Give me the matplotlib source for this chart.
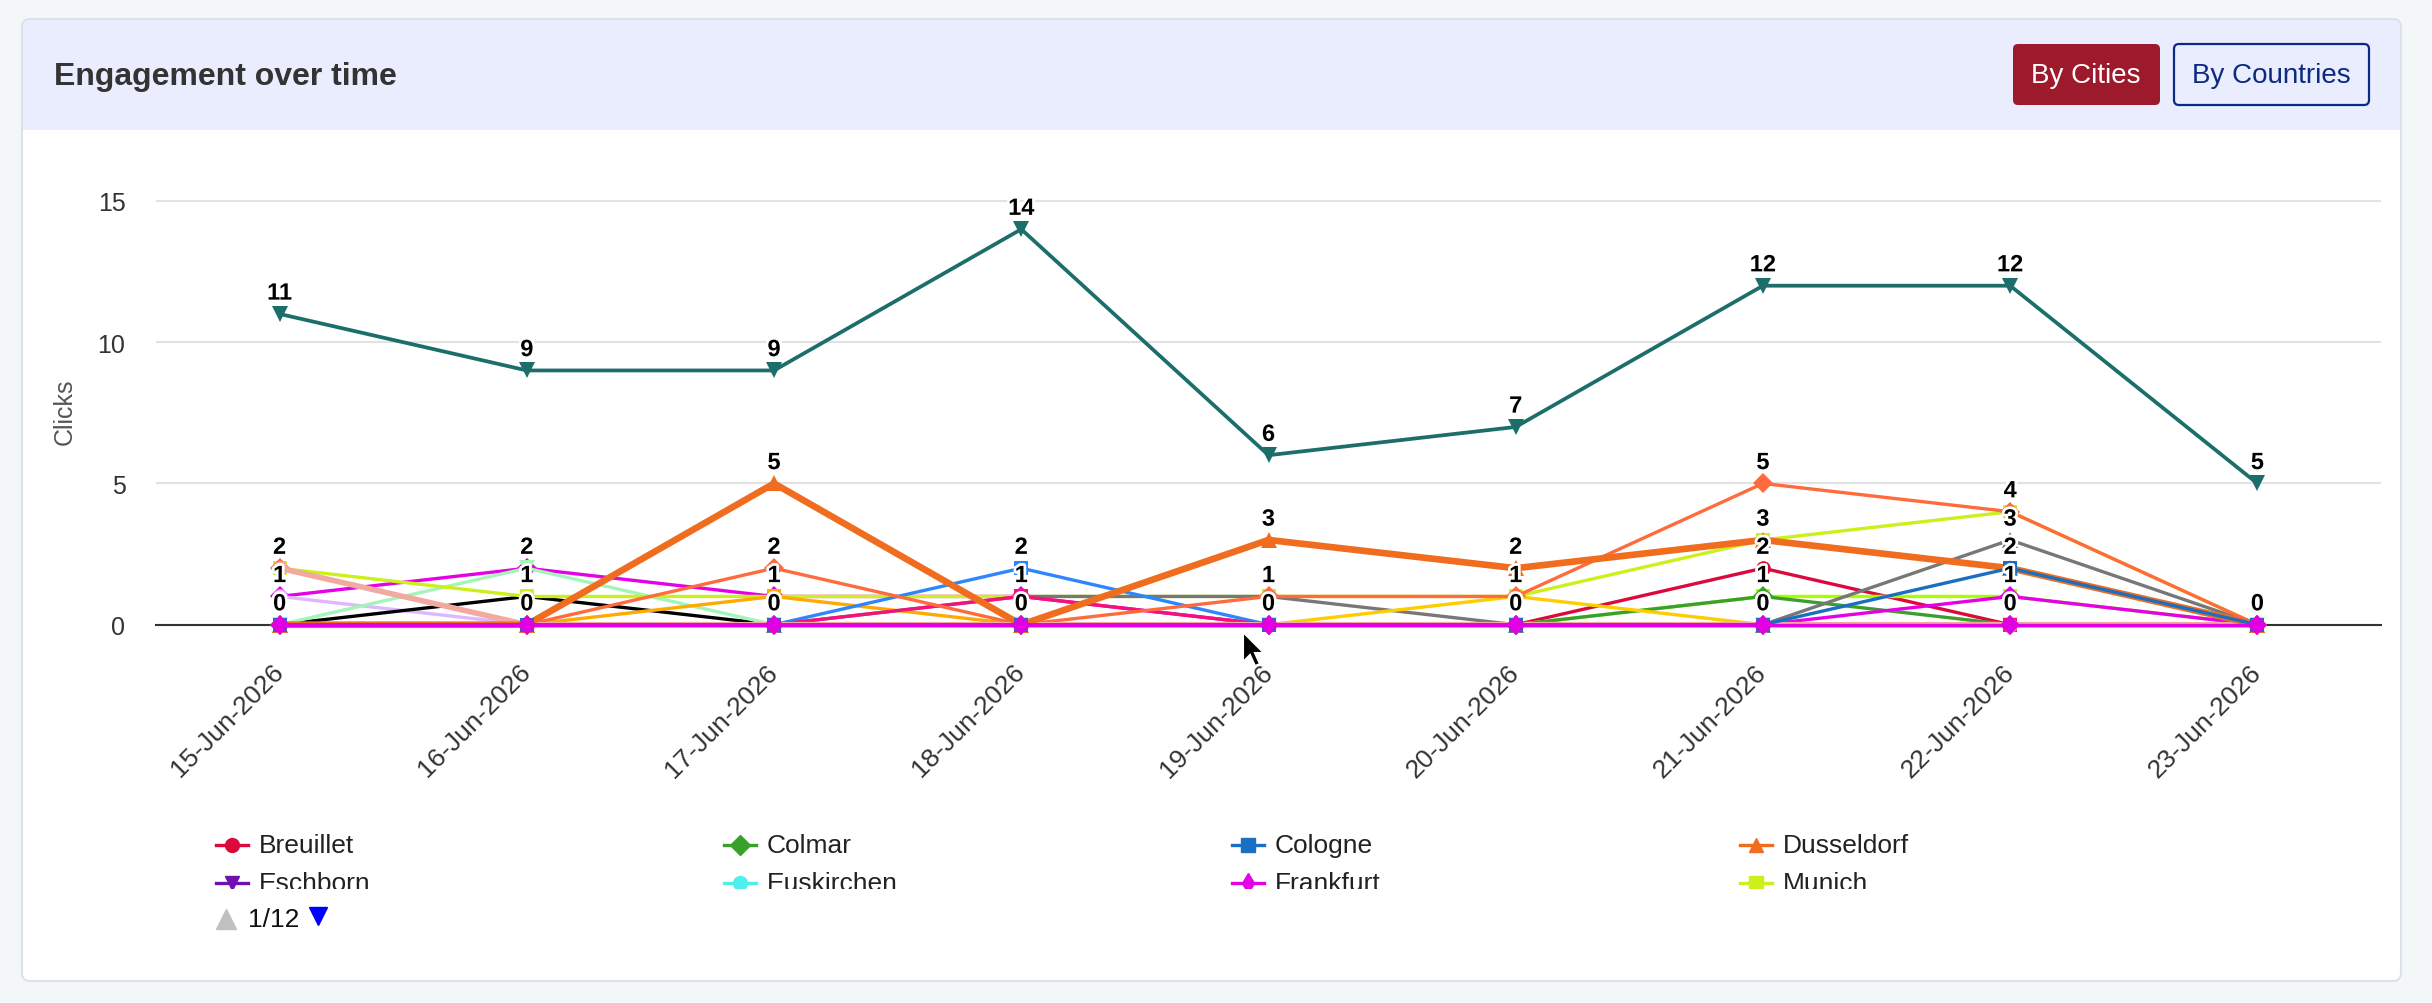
"""Engagement over time: clicks per city, recreated with matplotlib."""
import matplotlib
matplotlib.use("Agg")
import matplotlib.pyplot as plt
from matplotlib.lines import Line2D
from matplotlib.patches import FancyBboxPatch, Rectangle, Polygon
import matplotlib.patheffects as pe

plt.rcParams["font.family"] = ["Liberation Sans", "DejaVu Sans"]

W, H = 2432, 1004

dates = ["15-Jun-2026", "16-Jun-2026", "17-Jun-2026", "18-Jun-2026", "19-Jun-2026",
         "20-Jun-2026", "21-Jun-2026", "22-Jun-2026", "23-Jun-2026"]

# series in drawing order (later ones sit on top)
euskirchen = [0, 0, 0, 0, 0, 0, 0, 0, 0]
eschborn = [0, 0, 0, 0, 0, 0, 0, 0, 0]
breuillet = [0, 0, 0, 0, 0, 0, 2, 0, 0]
leverkusen = [0, 0, 0, 0, 0, 0, 1, 1, 0]
colmar = [0, 0, 0, 0, 0, 0, 1, 0, 0]
frankfurt = [1, 2, 1, 1, 0, 0, 0, 1, 0]
lyon = [1, 0, 0, 0, 0, 0, 0, 0, 0]
mainz = [0, 1, 0, 0, 0, 0, 0, 0, 0]
metz = [0, 2, 0, 0, 0, 0, 0, 0, 0]
munich = [2, 1, 1, 1, 1, 1, 3, 4, 0]
neuss = [0, 0, 0, 1, 1, 0, 0, 3, 0]
nancy = [0, 0, 1, 0, 0, 0, 0, 0, 0]
orsay = [0, 0, 0, 0, 0, 1, 0, 0, 0]
paris = [0, 0, 0, 2, 0, 0, 0, 0, 0]
reims = [0, 0, 0, 1, 0, 0, 0, 0, 0]
stuttgart = [2, 0, 2, 0, 1, 1, 5, 4, 0]
strasbourg = [2, 0, 0, 0, 0, 0, 0, 0, 0]
dusseldorf = [0, 0, 5, 0, 3, 2, 3, 2, 0]
cologne = [0, 0, 0, 0, 0, 0, 0, 2, 0]
trier = [0, 0, 0, 0, 0, 0, 0, 0, 0]
berlin = [11, 9, 9, 14, 6, 7, 12, 12, 5]

series = [
    ("Euskirchen", euskirchen, "#4ef0ee", "s", 2.4),
    ("Eschborn", eschborn, "#7010b0", "s", 2.4),
    ("Breuillet", breuillet, "#dc0a3c", "o", 2.4),
    ("Leverkusen", leverkusen, "#a8ff00", "s", 2.4),
    ("Colmar", colmar, "#3aa02c", "D", 2.4),
    ("Frankfurt", frankfurt, "#e600e6", "D", 2.4),
    ("Lyon", lyon, "#ddb8ff", "o", 2.4),
    ("Mainz", mainz, "#000000", "s", 2.4),
    ("Metz", metz, "#a3f5b8", "v", 2.4),
    ("Munich", munich, "#ccf01a", "s", 2.4),
    ("Neuss", neuss, "#777777", "^", 2.4),
    ("Nancy", nancy, "#ffaa00", "s", 2.4),
    ("Orsay", orsay, "#ffcc00", "o", 2.4),
    ("Paris", paris, "#2e86ff", "s", 2.4),
    ("Reims", reims, "#f5117a", "s", 2.4),
    ("Stuttgart", stuttgart, "#ff6b3d", "D", 2.4),
    ("Strasbourg", strasbourg, "#f2a9a0", "o", 4.0),
    ("Dusseldorf", dusseldorf, "#f06d1f", "^", 4.8),
    ("Cologne", cologne, "#1a6fc2", "s", 2.4),
    ("Trier", trier, "#e100e1", "D", 2.4),
    ("Berlin", berlin, "#1b6e6a", "v", 2.7),
]

legend_items = [
    ("Breuillet", "#dc0a3c", "o"), ("Colmar", "#3aa02c", "D"),
    ("Cologne", "#1a6fc2", "s"), ("Dusseldorf", "#f06d1f", "^"),
    ("Eschborn", "#7010b0", "v"), ("Euskirchen", "#4ef0ee", "o"),
    ("Frankfurt", "#e600e6", "d"), ("Munich", "#ccf01a", "s"),
]

fig = plt.figure(figsize=(W / 100, H / 100), dpi=100)
fig.patch.set_facecolor("#f3f7f8")

# background layer in pixel coordinates
bg = fig.add_axes([0, 0, 1, 1], zorder=0)
bg.set_xlim(0, W)
bg.set_ylim(H, 0)
bg.axis("off")

bg.add_patch(FancyBboxPatch((22, 20), 2379, 962, boxstyle="round,pad=0,rounding_size=8",
                            facecolor="white", edgecolor="#dbe2ec", linewidth=1.5))
bg.add_patch(FancyBboxPatch((23, 21), 2377, 110, boxstyle="round,pad=0,rounding_size=7",
                            facecolor="#e9edfd", edgecolor="none"))
bg.add_patch(Rectangle((23, 100), 2377, 31, facecolor="#e9edfd", edgecolor="none"))
bg.text(54, 77, "Engagement over time", fontsize=23, fontweight="bold",
        color="#333333", va="center", ha="left")

bg.add_patch(FancyBboxPatch((2013, 45), 147, 61, boxstyle="round,pad=0,rounding_size=5",
                            facecolor="#9c1a2c", edgecolor="none"))
bg.text(2086, 76, "By Cities", fontsize=20, color="white", ha="center", va="center")
bg.add_patch(FancyBboxPatch((2174, 45), 195, 61, boxstyle="round,pad=0,rounding_size=5",
                            facecolor="none", edgecolor="#0b2a80", linewidth=1.6))
bg.text(2271, 76, "By Countries", fontsize=20, color="#0b2a80", ha="center", va="center")

bg.text(65, 412, "Clicks", fontsize=18, color="#555555", rotation=90,
        ha="center", va="center")

# legend, first page only
col_x = [216, 724, 1232, 1740]
row_y = [846, 884]
for k, (name, color, mk) in enumerate(legend_items):
    x0 = col_x[k % 4]
    y0 = row_y[k // 4]
    bg.add_line(Line2D([x0, x0 + 32], [y0, y0], color=color, linewidth=2.4))
    bg.plot([x0 + 16], [y0], marker=mk, color=color, markersize=10, linestyle="none")
    bg.text(x0 + 43, y0, name, fontsize=19, color="#222222", va="center", ha="left")
# the second legend row is cut off by the legend box
bg.add_patch(Rectangle((200, 890), 2150, 14, facecolor="white", edgecolor="none", zorder=5))

bg.plot([226], [920], marker="^", color="#c0c0c0", markersize=15, linestyle="none", zorder=6)
bg.text(248, 920, "1/12", fontsize=19, color="#111111", va="center", ha="left", zorder=6)
bg.plot([318], [917], marker="v", color="#0000ff", markersize=13, linestyle="none", zorder=6)

# main chart
y0_px, ytop_px = 625.7, 173.7
ax = fig.add_axes([156 / W, 1 - y0_px / H, 2225 / W, (y0_px - ytop_px) / H], zorder=2)
ax.set_facecolor("none")

x = list(range(len(dates)))
for name, vals, color, mk, lw in series:
    ms = 12 if mk in ("v", "^") else 10.5
    ax.plot(x, vals, color=color, linewidth=lw, marker=mk, markersize=ms,
            markeredgewidth=0, clip_on=False, label=name, zorder=3)

# one label per distinct value at each date
for i in x:
    for v in sorted({s[1][i] for s in series}):
        ax.annotate(str(v), (i, v), xytext=(0, 15), textcoords="offset points",
                    ha="center", va="center", fontsize=17, fontweight="bold",
                    color="black", zorder=10, annotation_clip=False,
                    path_effects=[pe.withStroke(linewidth=4, foreground="white")])

ax.set_xlim(-0.5, len(dates) - 0.5)
ax.set_ylim(0, 16)
ax.set_yticks([0, 5, 10, 15])
ax.set_xticks(x)
ax.set_xticklabels(dates, rotation=45, ha="right", va="center", rotation_mode="anchor")
ax.tick_params(axis="both", length=0, colors="#333333")
ax.tick_params(axis="y", pad=22, labelsize=18)
ax.tick_params(axis="x", pad=31, labelsize=19)
ax.grid(axis="y", color="#e2e2e2", linewidth=1.5)
ax.set_axisbelow(True)
for side in ["top", "right", "left"]:
    ax.spines[side].set_visible(False)
ax.spines["bottom"].set_color("#333333")
ax.spines["bottom"].set_linewidth(1.5)

# mouse pointer captured in the screenshot
tip_x, tip_y = 1243, 633
arrow = [(0, 0), (0, 30), (7, 23), (12, 34), (17, 32), (12, 21), (21, 21)]
fig.add_artist(Polygon([(tip_x + dx, tip_y + dy) for dx, dy in arrow], closed=True,
                       facecolor="black", edgecolor="white", linewidth=1.5,
                       transform=bg.transData, zorder=20))

fig.savefig("out.png", dpi=100, facecolor=fig.get_facecolor())
